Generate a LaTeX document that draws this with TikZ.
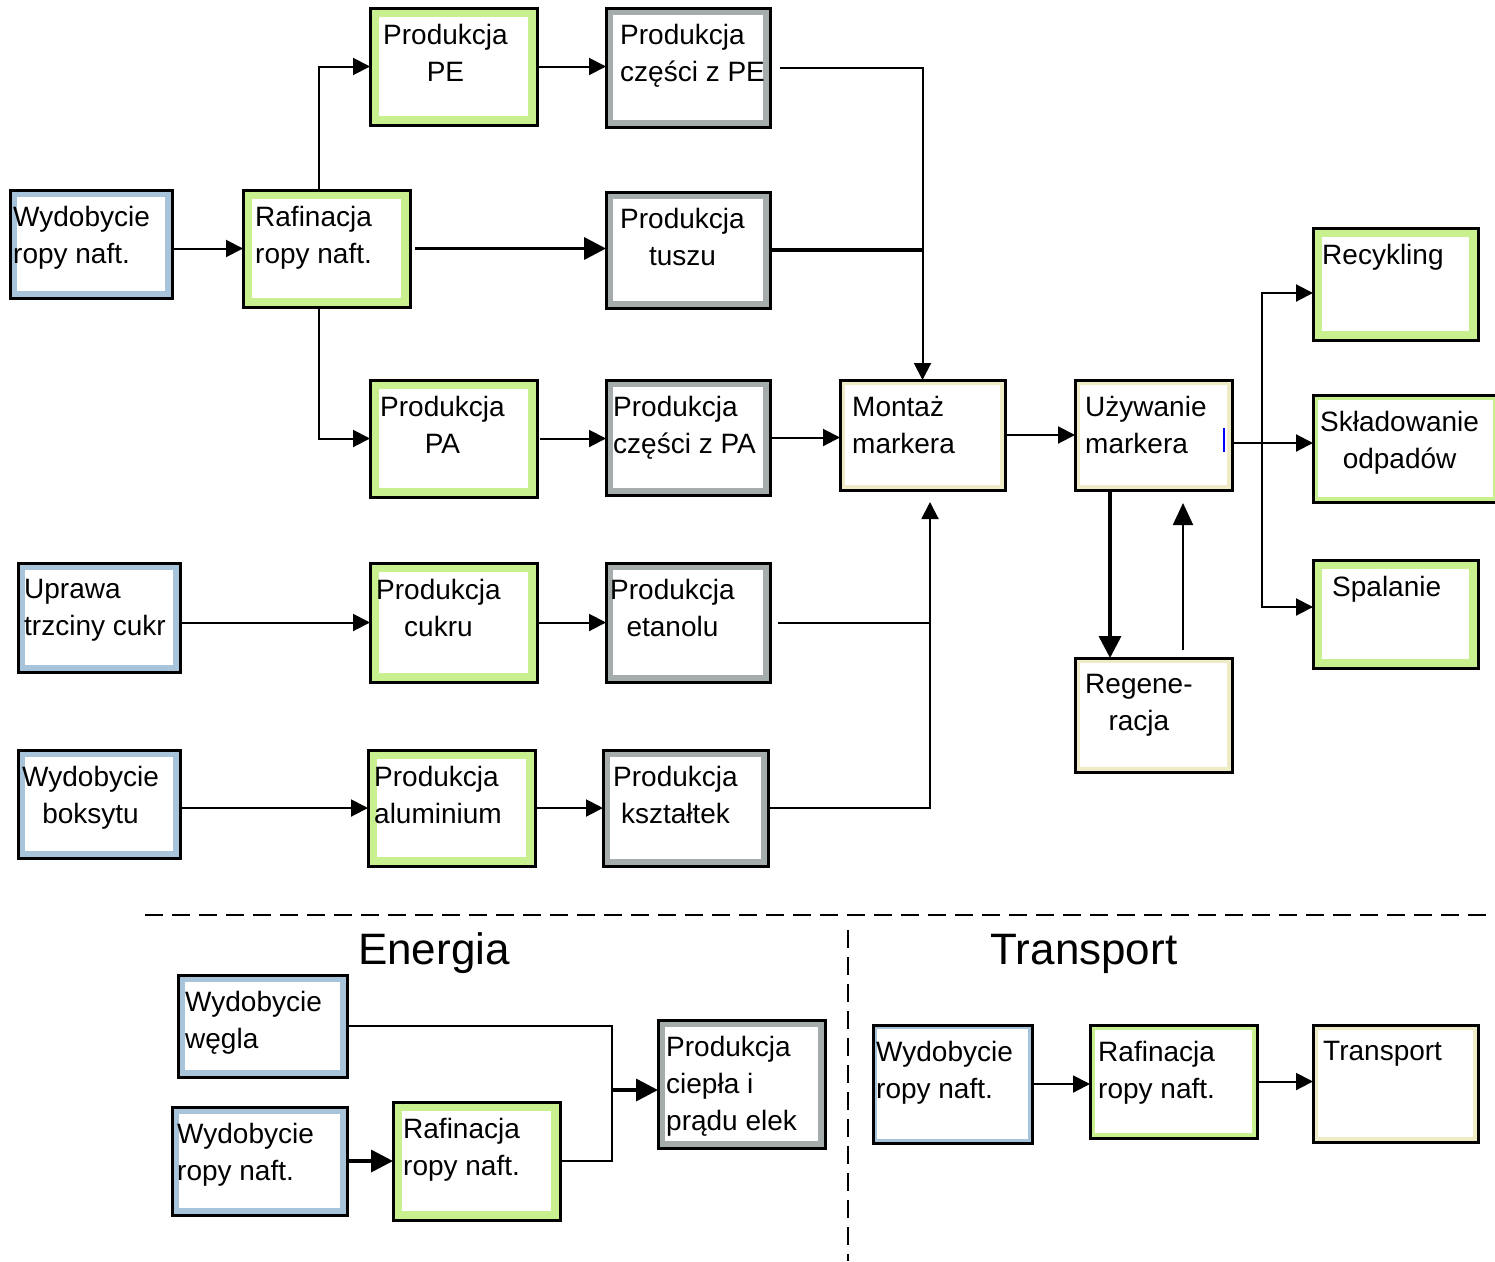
\documentclass[tikz,border=0pt]{standalone}
\usepackage{fontspec}
\setmainfont{Liberation Sans}
\usetikzlibrary{arrows.meta,calc}

\definecolor{bandgreen}{HTML}{C9F08F}
\definecolor{bandblue}{HTML}{A8C4DA}
\definecolor{bandgrey}{HTML}{A4ACAC}
\definecolor{bandlight}{HTML}{EFEBC6}

\tikzset{
  frameband/.style 2 args={fill=#1, path picture={
      \fill[white] ([shift={(#2,-#2)}]path picture bounding box.north west)
        rectangle ([shift={(-#2,#2)}]path picture bounding box.south east);}},
  fgreen/.style={frameband={bandgreen}{9pt}},
  fgreenthin/.style={frameband={bandgreen}{5pt}},
  fblue/.style={frameband={bandblue}{7pt}},
  fbluethin/.style={frameband={bandblue}{4pt}},
  fgrey/.style={frameband={bandgrey}{7pt}},
  flight/.style={frameband={bandlight}{5pt}},
  procbox/.style={rectangle, draw=black, line width=3pt, inner sep=0pt, outer sep=0pt},
  proctext/.style={anchor=north west, inner sep=0pt, font=\fontsize{28}{37}\selectfont},
  conn/.style={line width=2pt},
  arr/.style={line width=2pt, -{Triangle[length=17pt,width=17pt]}},
  thickconn/.style={line width=3.5pt},
  thickarr/.style={line width=3.5pt, -{Triangle[length=22pt,width=22pt]}},
  separator/.style={line width=2.5pt, dash pattern=on 18pt off 9pt},
  sectiontitle/.style={anchor=base, inner sep=0pt, font=\fontsize{44}{50}\selectfont},
}

% \processbox{name}{x1}{y1}{x2}{y2}{frame style}{text indent}{alignment}{text}
\newcommand\processbox[9]{%
  \node[procbox, #6, minimum width={(#4-#2)*1pt}, minimum height={(#5-#3)*1pt}]
    (#1) at ({(#2+#4)/2},{(#3+#5)/2}) {};
  \node[proctext, align=#8] (#1-t) at ([shift={(#7pt,-16pt)}]#1.north west) {#9};
}

\begin{document}
\begin{tikzpicture}[x=1pt, y=-1pt]
\useasboundingbox[fill=white] (0,0) rectangle (1495,1261);

% --- marker life cycle ---
\processbox{wyda}{10}{190}{172}{298}{fblue}{3}{left}{Wydobycie\\ropy naft.}
\processbox{rafa}{243}{190}{410}{307}{fgreen}{12}{left}{Rafinacja\\ropy naft.}
\processbox{pe}{370}{8}{537}{125}{fgreen}{13}{center}{Produkcja\\PE}
\processbox{cpe}{606}{8}{770}{127}{fgrey}{14}{left}{Produkcja\\części z PE}
\processbox{tus}{606}{192}{770}{308}{fgrey}{14}{center}{Produkcja\\tuszu}
\processbox{pa}{370}{380}{537}{497}{fgreen}{10}{center}{Produkcja\\PA}
\processbox{cpa}{606}{380}{770}{495}{fgrey}{7}{left}{Produkcja\\części z PA}
\processbox{mon}{840}{380}{1005}{490}{flight}{12}{left}{Montaż\\markera}
\processbox{uzy}{1075}{380}{1232}{490}{flight}{10}{left}{Używanie\\markera}
\processbox{rec}{1313}{228}{1478}{340}{fgreen}{9}{left}{Recykling}
\processbox{skl}{1313}{395}{1498}{502}{fgreenthin}{7}{center}{Składowanie\\odpadów}
\processbox{spa}{1313}{560}{1478}{668}{fgreen}{19}{left}{Spalanie}
\processbox{reg}{1075}{658}{1232}{772}{flight}{10}{center}{Regene-\\racja}
\processbox{upr}{18}{563}{180}{672}{fblue}{6}{left}{Uprawa\\trzciny cukr}
\processbox{cuk}{370}{563}{537}{682}{fgreen}{6}{center}{Produkcja\\cukru}
\processbox{eta}{606}{563}{770}{682}{fgrey}{4}{center}{Produkcja\\etanolu}
\processbox{bok}{18}{750}{180}{858}{fblue}{4}{center}{Wydobycie\\boksytu}
\processbox{alu}{368}{750}{535}{866}{fgreen}{6}{left}{Produkcja\\aluminium}
\processbox{ksz}{603}{750}{768}{866}{fgrey}{10}{center}{Produkcja\\kształtek}

% cursor mark inside the use box
\draw[blue, line width=2pt] (1224,428) -- (1224,452);

% connectors
\draw[arr] (wyda.east |- rafa.west) -- (rafa.west);
\draw[arr] ([xshift=-8pt]rafa.north) |- (pe.west);
\draw[thickarr] ([xshift=5pt]rafa.east) -- (rafa.east -| tus.west);
\draw[arr] ([xshift=-8pt]rafa.south) |- (pa.west);
\draw[arr] (pe.east) -- (pe.east -| cpe.west);
\draw[arr] ([xshift=10pt]cpe.east) -| (mon.north);
\draw[thickconn] (tus.east) -- (tus.east -| mon.north);
\draw[arr] ([xshift=3pt]pa.east) -- (pa.east -| cpa.west);
\draw[arr] (cpa.east) -- (cpa.east -| mon.west);
\draw[arr] (mon.east) -- (uzy.west);

\coordinate (br) at (1262,443);
\coordinate (brt) at (1262,293);
\coordinate (brb) at (1262,607);
\draw[conn] (uzy.east |- br) -- (br);
\draw[arr] (br) -- (br -| skl.west);
\draw[arr] (br) -- (brt) -- (brt -| rec.west);
\draw[arr] (br) -- (brb) -- (brb -| spa.west);

\draw[thickarr] ([xshift=-43.5pt]uzy.south) -- ([xshift=-43.5pt]reg.north);
\draw[line width=2pt, -{Triangle[length=22pt,width=20pt]}, shorten <=8pt, shorten >=13pt]
  ([xshift=29.5pt]reg.north) -- ([xshift=29.5pt]uzy.south);

\draw[arr] (upr.east |- cuk.west) -- (cuk.west);
\draw[arr] (cuk.east) -- (eta.west);
\coordinate (jb) at ([xshift=7.5pt]mon.south);
\draw[conn] ([xshift=8pt]eta.east) -- (eta.east -| jb);
\draw[arr] (bok.east |- alu.west) -- (alu.west);
\draw[arr] (alu.east) -- (ksz.west);
\draw[arr, shorten >=12pt] ([xshift=2pt]ksz.east) -| (jb);

% separators and section titles
\coordinate (dl) at (145,915);
\coordinate (dr) at (1495,915);
\coordinate (dt) at (848,930);
\coordinate (db) at (848,1261);
\draw[separator] (dl) -- (dr);
\draw[separator] (dt) -- (db);
\node[sectiontitle] (ten) at (434,964) {Energia};
\node[sectiontitle] (ttr) at (1084,964) {Transport};

% --- energy ---
\processbox{weg}{178}{975}{347}{1077}{fblue}{7}{left}{Wydobycie\\węgla}
\processbox{wydb}{172}{1107}{347}{1215}{fblue}{5}{left}{Wydobycie\\ropy naft.}
\processbox{rafb}{393}{1102}{560}{1220}{fgreen}{10}{left}{Rafinacja\\ropy naft.}
\processbox{cie}{658}{1020}{825}{1148}{fgrey}{8}{left}{Produkcja\\ciepła i\\prądu elek}

\coordinate (je) at (612,1090);
\draw[conn] (weg.east) -| (je);
\draw[conn] (rafb.east) -| (je);
\draw[thickarr] (je) -- (je -| cie.west);
\draw[thickarr] (wydb.east) -- (wydb.east -| rafb.west);

% --- transport ---
\processbox{wydc}{873}{1025}{1032}{1143}{fbluethin}{3}{left}{Wydobycie\\ropy naft.}
\processbox{rafc}{1090}{1025}{1257}{1138}{fgreenthin}{8}{left}{Rafinacja\\ropy naft.}
\processbox{tra}{1313}{1025}{1478}{1142}{flight}{10}{left}{Transport}

\draw[arr] (wydc.east) -- (wydc.east -| rafc.west);
\draw[arr] (rafc.east) -- (rafc.east -| tra.west);
\end{tikzpicture}
\end{document}
